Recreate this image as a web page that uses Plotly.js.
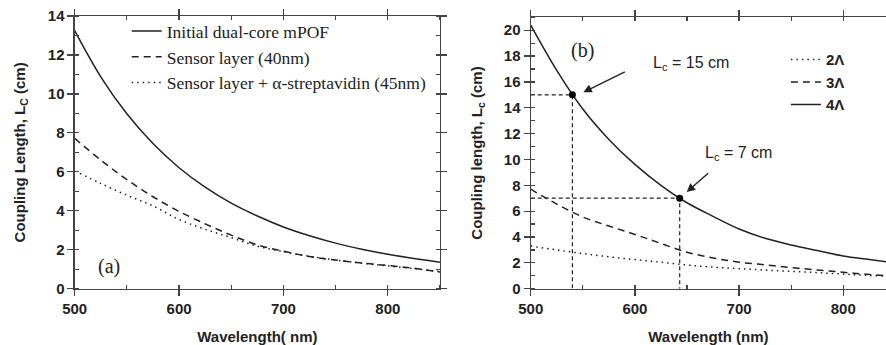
<!DOCTYPE html>
<html>
<head>
<meta charset="utf-8">
<script src="https://cdn.plot.ly/plotly-3.0.1.min.js"></script>
<style>html,body{margin:0;padding:0;background:#fff;}#chart{width:886px;height:345px;}</style>
</head>
<body>
<div id="chart"></div>
<script>
// ---- Panel (a) data ----
const wavelengthA = [500,525,550,575,600,625,650,675,700,725,750,775,800,825,850];
const initialDualCore = [13.25,10.88,8.98,7.45,6.21,5.21,4.39,3.73,3.17,2.72,2.34,2.03,1.77,1.55,1.36];
const sensorLayer40 = [7.72,6.60,5.60,4.72,3.97,3.33,2.75,2.25,1.92,1.65,1.47,1.32,1.19,1.05,0.86];
const wavelengthA3 = [505,525,550,575,600,625,650,675,700,725,750,775,800,825,850];
const sensorStrept45 = [5.92,5.40,4.80,4.25,3.55,3.05,2.62,2.18,1.90,1.66,1.47,1.31,1.17,1.03,0.88];
const legendA = ['Initial dual-core mPOF','Sensor layer (40nm)','Sensor layer + \u03b1-streptavidin (45nm)'];

// ---- Panel (b) data ----
const wavelengthB = [500,525,550,575,600,625,650,675,700,725,750,775,800,825,850];
const twoLambda = [3.30,3.00,2.72,2.47,2.25,2.05,1.83,1.67,1.55,1.44,1.34,1.24,1.13,1.03,0.95];
const threeLambda = [7.70,6.55,5.55,4.85,4.20,3.50,2.82,2.38,2.05,1.85,1.64,1.45,1.27,1.10,0.95];
const fourLambda = [20.40,16.90,13.90,11.55,9.62,8.00,6.65,5.60,4.62,3.90,3.38,2.95,2.53,2.25,1.98];
const legendB = ['2\u039b','3\u039b','4\u039b'];
const markWavelength = [540,643];
const markLength = [15,7];
const markLabels = ['L<sub>c</sub> = 15 cm','L<sub>c</sub> = 7 cm'];

const ink = '#222';
const axisCol = '#444';
const serif = 'Liberation Serif, Times New Roman, serif';
const sans = 'Liberation Sans, Arial, sans-serif';

const traces = [
  {x: wavelengthA, y: initialDualCore, name: legendA[0], mode:'lines', line:{color:ink,width:1.5,shape:'spline'}, xaxis:'x', yaxis:'y', legend:'legend'},
  {x: wavelengthA, y: sensorLayer40, name: legendA[1], mode:'lines', line:{color:ink,width:1.5,dash:'7px,5px',shape:'spline'}, xaxis:'x', yaxis:'y', legend:'legend'},
  {x: wavelengthA3, y: sensorStrept45, name: legendA[2], mode:'lines', line:{color:ink,width:1.5,dash:'1.5px,4px',shape:'spline'}, xaxis:'x', yaxis:'y', legend:'legend'},
  {x: wavelengthB, y: twoLambda, name: legendB[0], mode:'lines', line:{color:ink,width:1.5,dash:'1.5px,4px',shape:'spline'}, xaxis:'x2', yaxis:'y2', legend:'legend2'},
  {x: wavelengthB, y: threeLambda, name: legendB[1], mode:'lines', line:{color:ink,width:1.5,dash:'7px,5px',shape:'spline'}, xaxis:'x2', yaxis:'y2', legend:'legend2'},
  {x: wavelengthB, y: fourLambda, name: legendB[2], mode:'lines', line:{color:ink,width:1.5,shape:'spline'}, xaxis:'x2', yaxis:'y2', legend:'legend2'}
];

// guide lines from the marked points to the axes
markWavelength.forEach(function(w, i){
  traces.push({x:[500, w, w], y:[markLength[i], markLength[i], 0], mode:'lines', showlegend:false, hoverinfo:'skip',
    line:{color:ink,width:1.2,dash:'4px,3px'}, xaxis:'x2', yaxis:'y2'});
});
traces.push({x: markWavelength, y: markLength, mode:'markers', showlegend:false, marker:{color:'#000',size:7}, xaxis:'x2', yaxis:'y2'});

const tickFont = {family: sans, size: 15, color: ink, weight: 'bold'};
const titleFont = {family: sans, size: 15, color: ink, weight: 'bold'};
function xAx(domain, range, title, anchor){
  return {domain: domain, range: range, anchor: anchor, tick0:500, dtick:100, ticks:'outside', ticklen:6, tickwidth:1.2, tickcolor:axisCol,
    showline:true, linecolor:axisCol, linewidth:1.2, mirror:'ticks', showgrid:false, zeroline:false, automargin:false,
    minor:{dtick:50, ticks:'inside', ticklen:4, tickcolor:axisCol, tickwidth:1.2}, tickfont: tickFont,
    title:{text:title, font:titleFont, standoff:15}};
}
function yAx(domain, range, title, anchor, mirror, standoff){
  return {domain: domain, range: range, anchor: anchor, tick0:0, dtick:2, ticks:'outside', ticklen:6, tickwidth:1.2, tickcolor:axisCol,
    showline:true, linecolor:axisCol, linewidth:1.2, mirror:mirror, showgrid:false, zeroline:false, automargin:false,
    minor:{dtick:1, ticks:'inside', ticklen:4, tickcolor:axisCol, tickwidth:1.2}, tickfont: tickFont,
    title:{text:title, font:titleFont, standoff:standoff}};
}

const annotations = [
  {xref:'x', yref:'y', x:533, y:1.13, text:'(a)', showarrow:false, font:{family:serif,size:20,color:ink}},
  {xref:'x2', yref:'y2', x:549.7, y:18.4, text:'(b)', showarrow:false, font:{family:serif,size:20,color:ink}},
  {xref:'x2', yref:'y2', x:550.5, y:15.2, ax:43, ay:-21, text:'', showarrow:true, arrowhead:2, arrowsize:1.2, arrowwidth:1.4, arrowcolor:ink, standoff:0},
  {xref:'x2', yref:'y2', x:649.7, y:7.48, ax:23, ay:-20, text:'', showarrow:true, arrowhead:2, arrowsize:1.2, arrowwidth:1.4, arrowcolor:ink, standoff:0},
  {xref:'x2', yref:'y2', x:653.7, y:17.42, text:markLabels[0], showarrow:false, font:{family:sans,size:16,color:ink}},
  {xref:'x2', yref:'y2', x:699, y:10.46, text:markLabels[1], showarrow:false, font:{family:sans,size:16,color:ink}}
];

const layout = {
  width:886, height:345, margin:{l:0,r:0,t:0,b:0}, paper_bgcolor:'#fff', plot_bgcolor:'#fff',
  xaxis: xAx([0.0843,0.4966],[500,850],'Wavelength( nm)','y'),
  yaxis: yAx([0.1632,0.9536],[0,14],'Coupling Length, L<sub>C</sub> (cm)','x','ticks',18),
  xaxis2: xAx([0.599,1],[500,841],'Wavelength (nm)','y2'),
  yaxis2: yAx([0.1632,0.9499],[0,21],'Coupling length, L<sub>c</sub> (cm)','x2',false,17),
  legend:{x:0.143, y:0.962, xanchor:'left', yanchor:'top', bgcolor:'rgba(0,0,0,0)', font:{family:serif,size:17.5,color:ink}, tracegroupgap:0},
  legend2:{x:0.887, y:0.875, xanchor:'left', yanchor:'top', bgcolor:'rgba(0,0,0,0)', font:{family:sans,size:15,color:ink,weight:'bold'}, tracegroupgap:0},
  annotations: annotations
};

Plotly.newPlot('chart', traces, layout, {displayModeBar:false, staticPlot:true});
</script>
</body>
</html>
